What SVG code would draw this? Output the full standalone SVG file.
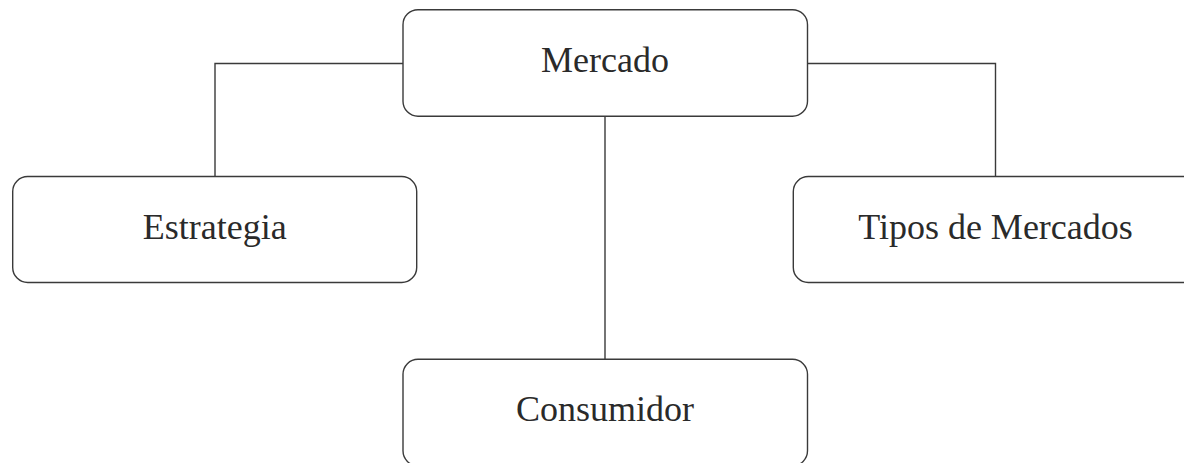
<svg xmlns="http://www.w3.org/2000/svg" width="1184" height="463" viewBox="0 0 1184 463">
<style>
.box{fill:#fff;stroke:#3a3a3a;stroke-width:1.4}
.lbl{font-family:"Liberation Serif",serif;font-size:36px;fill:#2a2a2a;text-anchor:middle}
.con{fill:none;stroke:#3a3a3a;stroke-width:1.4}
</style>
<rect width="1184" height="463" fill="#fff"/>
<g id="connectors">
<polyline class="con" points="403,63.5 215,63.5 215,177"/>
<polyline class="con" points="807.5,63.5 995.5,63.5 995.5,177"/>
<line class="con" x1="605" y1="116" x2="605" y2="359"/>
</g>
<g id="mercado">
<rect class="box" x="403" y="9.7" width="404.5" height="106.5" rx="15"/>
<text class="lbl" x="605" y="71.5">Mercado</text>
</g>
<g id="estrategia">
<rect class="box" x="12.7" y="176.5" width="404" height="106" rx="15"/>
<text class="lbl" x="214.7" y="238.5">Estrategia</text>
</g>
<g id="tipos">
<rect class="box" x="793.3" y="176.5" width="404.5" height="106" rx="15"/>
<text class="lbl" x="995.5" y="238.5">Tipos de Mercados</text>
</g>
<g id="consumidor">
<rect class="box" x="403" y="359.3" width="404.5" height="106.5" rx="15"/>
<text class="lbl" x="605" y="421">Consumidor</text>
</g>
</svg>
